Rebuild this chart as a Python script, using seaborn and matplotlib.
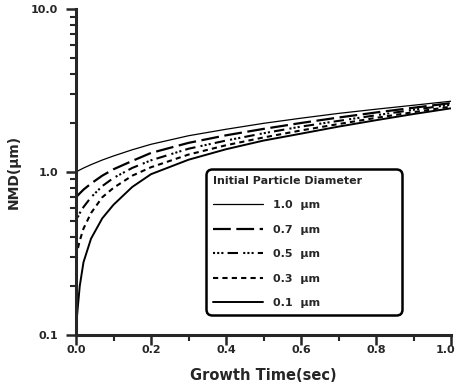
import matplotlib
matplotlib.use("Agg")
import matplotlib.pyplot as plt
import matplotlib.transforms as mtransforms
import seaborn as sns
import pandas as pd
from matplotlib.ticker import FixedLocator, FixedFormatter, LogLocator, NullFormatter, MultipleLocator

# Growth time samples (s)
time_s = [0.0, 0.002, 0.005, 0.01, 0.02, 0.04, 0.07, 0.1, 0.15, 0.2,
          0.3, 0.4, 0.5, 0.6, 0.7, 0.8, 0.9, 1.0]

# Number mean diameter (um) for each initial particle diameter
nmd_10 = [1.000, 1.006, 1.015, 1.030, 1.058, 1.110, 1.185, 1.255, 1.370, 1.480,
          1.670, 1.830, 1.990, 2.140, 2.290, 2.430, 2.570, 2.720]
nmd_07 = [0.700, 0.708, 0.720, 0.740, 0.780, 0.850, 0.950, 1.040, 1.170, 1.310,
          1.510, 1.680, 1.840, 2.000, 2.160, 2.320, 2.480, 2.650]
nmd_05 = [0.500, 0.510, 0.530, 0.560, 0.610, 0.700, 0.820, 0.920, 1.060, 1.180,
          1.390, 1.560, 1.730, 1.900, 2.060, 2.230, 2.410, 2.590]
nmd_03 = [0.300, 0.315, 0.340, 0.380, 0.450, 0.560, 0.700, 0.800, 0.950, 1.070,
          1.280, 1.460, 1.630, 1.800, 1.970, 2.150, 2.330, 2.520]
nmd_01 = [0.100, 0.125, 0.150, 0.200, 0.280, 0.390, 0.520, 0.630, 0.810, 0.970,
          1.190, 1.380, 1.560, 1.720, 1.900, 2.080, 2.270, 2.460]

series_labels = ["1.0  \u00b5m", "0.7  \u00b5m", "0.5  \u00b5m", "0.3  \u00b5m", "0.1  \u00b5m"]
series_values = [nmd_10, nmd_07, nmd_05, nmd_03, nmd_01]

x_ticks = [0.0, 0.2, 0.4, 0.6, 0.8, 1.0]
x_tick_labels = ["0.0", "0.2", "0.4", "0.6", "0.8", "1.0"]
y_ticks = [0.1, 1.0, 10.0]
y_tick_labels = ["0.1", "1.0", "10.0"]

sns.set_style("ticks")
plt.rcParams["font.family"] = ["DejaVu Sans"]
plt.rcParams["font.weight"] = "bold"

styles = [
    dict(lw=0.9, ls="-"),
    dict(lw=1.6, ls=(0, (8, 2.5))),
    dict(lw=1.5, ls=(0, (1, 1, 1, 1, 1, 2, 5, 2.5))),
    dict(lw=1.5, ls=(0, (2.5, 2))),
    dict(lw=1.4, ls="-"),
]

fig = plt.figure(figsize=(4.59, 3.88), dpi=100)
ax = fig.add_axes([0.1656, 0.1366, 0.817, 0.84])

frames = []
for lab, vals in zip(series_labels, series_values):
    frames.append(pd.DataFrame({"t": time_s, "nmd": vals, "d0": lab}))
df = pd.concat(frames, ignore_index=True)

for lab, st in zip(series_labels, styles):
    sub = df[df["d0"] == lab]
    sns.lineplot(data=sub, x="t", y="nmd", ax=ax, color="black",
                 linewidth=st["lw"], linestyle=st["ls"], label=lab,
                 estimator=None, sort=False)

ax.set_yscale("log")
ax.set_xlim(0.0, 1.0)
ax.set_ylim(0.1, 10.0)

ax.xaxis.set_major_locator(FixedLocator(x_ticks))
ax.xaxis.set_major_formatter(FixedFormatter(x_tick_labels))
ax.xaxis.set_minor_locator(MultipleLocator(0.1))
ax.yaxis.set_major_locator(FixedLocator(y_ticks))
ax.yaxis.set_major_formatter(FixedFormatter(y_tick_labels))
ax.yaxis.set_minor_locator(LogLocator(base=10, subs=range(2, 10)))
ax.yaxis.set_minor_formatter(NullFormatter())

ax.tick_params(which="major", direction="out", length=7, width=1.8,
               labelsize=8)
ax.tick_params(axis="x", which="major", pad=0.5)
ax.tick_params(axis="y", which="major", pad=6)
ax.tick_params(which="minor", direction="out", length=4.5, width=1.5)
for lbl in ax.get_xticklabels() + ax.get_yticklabels():
    lbl.set_fontweight("bold")

# keep the right-most time label inside the figure
last = ax.get_xticklabels()[-1]
last.set_transform(last.get_transform() +
                   mtransforms.ScaledTranslation(-4 / 72, 0, fig.dpi_scale_trans))

for side in ("top", "right"):
    ax.spines[side].set_visible(False)
for side in ("left", "bottom"):
    ax.spines[side].set_linewidth(2.2)

ax.set_xlabel("Growth Time(sec)", fontsize=10.5, fontweight="bold", labelpad=9)
ax.set_ylabel("NMD(\u00b5m)", fontsize=10, fontweight="bold", labelpad=7)

leg = ax.legend(title="Initial Particle Diameter", loc="upper left",
                bbox_to_anchor=(0.347, 0.509, 0.522, 0.0), mode="expand",
                borderaxespad=0.0, frameon=True, fancybox=True,
                fontsize=8, title_fontsize=8,
                handlelength=4.5, handletextpad=0.9, labelspacing=1.3,
                borderpad=0.6, alignment="left")
leg.get_title().set_fontweight("bold")
for t in leg.get_texts():
    t.set_fontweight("bold")
frame = leg.get_frame()
frame.set_edgecolor("black")
frame.set_linewidth(1.8)
frame.set_facecolor("white")
frame.set_alpha(1.0)
frame.set_boxstyle("round", pad=0.0, rounding_size=0.5)

fig.savefig("out.png", dpi=100)
